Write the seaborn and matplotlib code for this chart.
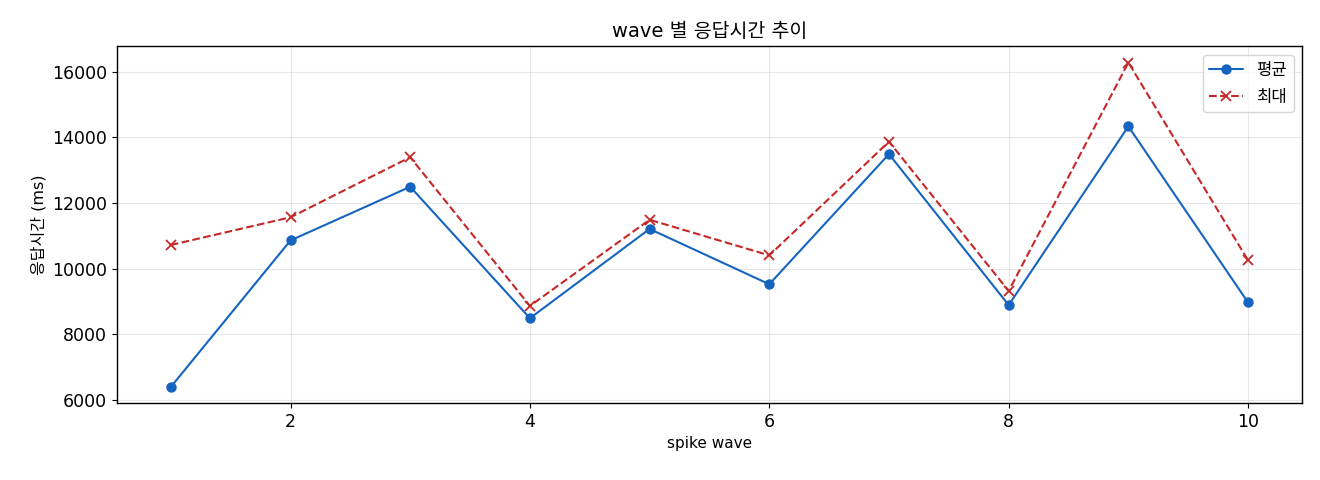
import matplotlib
matplotlib.use("Agg")
import matplotlib.pyplot as plt
import seaborn as sns
import pandas as pd

waves = [1, 2, 3, 4, 5, 6, 7, 8, 9, 10]
mean_ms = [6395, 10860, 12495, 8490, 11210, 9525, 13490, 8890, 14335, 8970]
max_ms = [10720, 11565, 13395, 8865, 11490, 10405, 13870, 9320, 16280, 10255]

sns.set_style("white")
plt.rcParams['font.family'] = ['DejaVu Sans', 'Noto Sans CJK KR']
plt.rcParams['axes.unicode_minus'] = False
plt.rcParams['text.color'] = 'black'
plt.rcParams['axes.labelcolor'] = 'black'
plt.rcParams['xtick.color'] = 'black'
plt.rcParams['ytick.color'] = 'black'

df = pd.DataFrame({"wave": waves, "mean": mean_ms, "max": max_ms})

fig = plt.figure(figsize=(13.2, 4.8), dpi=100)
ax = fig.add_axes([0.0886, 0.16, 0.8977, 0.7435])

sns.lineplot(data=df, x="wave", y="mean", ax=ax, color="#1565C0", marker="o",
             markersize=7.5, markeredgewidth=0, linewidth=1.5, label="평균")
sns.lineplot(data=df, x="wave", y="max", ax=ax, color="#C62828", marker="x",
             markersize=7.5, markeredgewidth=1.3, markeredgecolor="#C62828",
             linewidth=1.5, linestyle="--", label="최대")

ax.set_title("wave 별 응답시간 추이", fontsize=14, pad=7)
ax.set_xlabel("spike wave", fontsize=11)
ax.set_ylabel("응답시간 (ms)", fontsize=11.5)
ax.grid(True, color="#b0b0b0", alpha=0.3, linewidth=0.8)
ax.tick_params(axis='both', labelsize=12.5, length=3.5, width=0.8, left=True, bottom=True)
for s in ax.spines.values():
    s.set_color("black")
    s.set_linewidth(1.0)
ax.margins(x=0.05, y=0.05)
ax.legend(loc="upper right", fontsize=12, frameon=True)

fig.savefig("out.png", dpi=100)
